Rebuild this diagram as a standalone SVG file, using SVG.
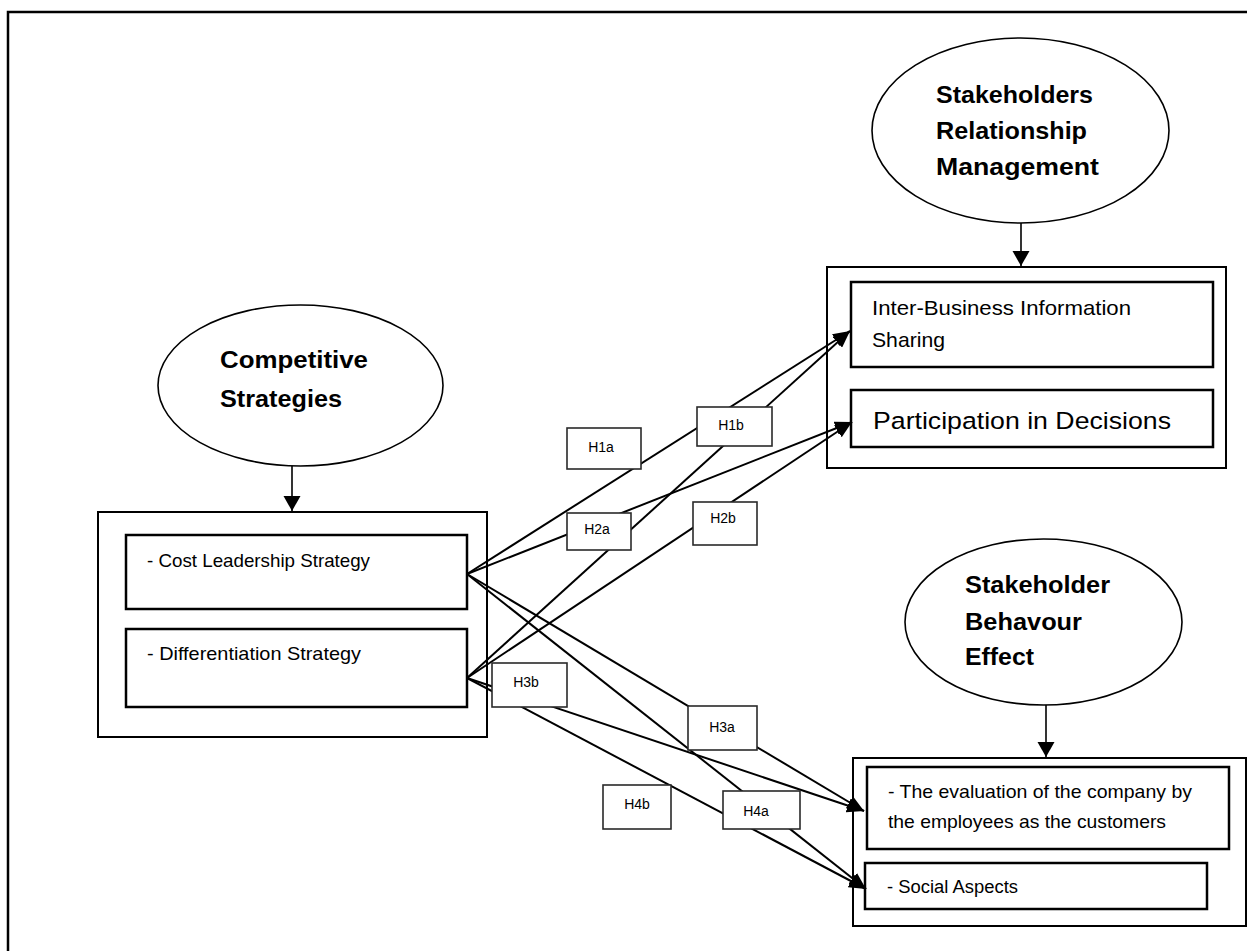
<svg xmlns="http://www.w3.org/2000/svg" width="1247" height="951" viewBox="0 0 1247 951">
<style>
.frame{fill:none;stroke:#000;stroke-width:2.5}
.ell{fill:#fff;stroke:#000;stroke-width:1.6}
.outer{fill:#fff;stroke:#000;stroke-width:2}
.inner{fill:#fff;stroke:#000;stroke-width:2.5}
.hbox{fill:#fff;stroke:#2a2a2a;stroke-width:1.6}
.conn{fill:none;stroke:#000;stroke-width:2;marker-end:url(#ah)}
.down{fill:none;stroke:#000;stroke-width:1.6;marker-end:url(#ahd)}
.bold{font-family:"Liberation Sans",Arial,sans-serif;font-weight:bold;font-size:23px;fill:#000}
.reg{font-family:"Liberation Sans",Arial,sans-serif;fill:#000}
.h{font-family:"Liberation Sans",Arial,sans-serif;font-size:14px;fill:#000;text-anchor:middle}
</style>
<defs>
<marker id="ah" markerUnits="userSpaceOnUse" markerWidth="18" markerHeight="14" refX="17" refY="7" orient="auto">
<path d="M0,0 L17,7 L0,14 z" fill="#000"/>
</marker>
<marker id="ahd" markerUnits="userSpaceOnUse" markerWidth="16" markerHeight="18" refX="15" refY="8.5" orient="auto">
<path d="M0,0 L15,8.5 L0,17 z" fill="#000"/>
</marker>
</defs>
<rect width="1247" height="951" fill="#fff"/>
<path class="frame" d="M8,951 L8,12 L1247,12"/>

<g id="competitive-strategies">
<ellipse class="ell" cx="300.5" cy="385.5" rx="142.5" ry="80.5"/>
<text class="bold" x="220" y="368" textLength="148" lengthAdjust="spacingAndGlyphs">Competitive</text>
<text class="bold" x="220" y="407" textLength="122" lengthAdjust="spacingAndGlyphs">Strategies</text>
</g>
<g id="strategies-box">
<rect class="outer" x="98" y="512" width="389" height="225"/>
<rect class="inner" x="126" y="535" width="341" height="74"/>
<text class="reg" x="147" y="567" font-size="18.5" textLength="223" lengthAdjust="spacingAndGlyphs">- Cost Leadership Strategy</text>
<rect class="inner" x="126" y="629" width="341" height="78"/>
<text class="reg" x="147" y="660" font-size="18.5" textLength="214" lengthAdjust="spacingAndGlyphs">- Differentiation Strategy</text>
</g>

<g id="srm">
<ellipse class="ell" cx="1020.5" cy="130.5" rx="148.5" ry="92.5"/>
<text class="bold" x="936" y="103" textLength="157" lengthAdjust="spacingAndGlyphs">Stakeholders</text>
<text class="bold" x="936" y="139" textLength="151" lengthAdjust="spacingAndGlyphs">Relationship</text>
<text class="bold" x="936" y="175" textLength="163" lengthAdjust="spacingAndGlyphs">Management</text>
</g>
<g id="srm-box">
<rect class="outer" x="827" y="267" width="399" height="201"/>
<rect class="inner" x="851" y="282" width="362" height="85"/>
<text class="reg" x="872" y="315" font-size="21" textLength="259" lengthAdjust="spacingAndGlyphs">Inter-Business Information</text>
<text class="reg" x="872" y="347" font-size="21" textLength="73" lengthAdjust="spacingAndGlyphs">Sharing</text>
<rect class="inner" x="851" y="390" width="362" height="57"/>
<text class="reg" x="873" y="429" font-size="24.5" textLength="298" lengthAdjust="spacingAndGlyphs">Participation in Decisions</text>
</g>

<g id="sbe">
<ellipse class="ell" cx="1043.5" cy="622" rx="138.5" ry="83"/>
<text class="bold" x="965" y="593" textLength="145" lengthAdjust="spacingAndGlyphs">Stakeholder</text>
<text class="bold" x="965" y="630" textLength="117" lengthAdjust="spacingAndGlyphs">Behavour</text>
<text class="bold" x="965" y="665" textLength="69" lengthAdjust="spacingAndGlyphs">Effect</text>
</g>
<g id="sbe-box">
<rect class="outer" x="853" y="758" width="393" height="168"/>
<rect class="inner" x="867" y="767" width="362" height="82"/>
<text class="reg" x="888" y="798" font-size="18.5" textLength="304" lengthAdjust="spacingAndGlyphs">- The evaluation of the company by</text>
<text class="reg" x="888" y="828" font-size="18.5" textLength="278" lengthAdjust="spacingAndGlyphs">the employees as the customers</text>
<rect class="inner" x="865" y="863" width="342" height="46"/>
<text class="reg" x="887" y="893" font-size="18" textLength="131" lengthAdjust="spacingAndGlyphs">- Social Aspects</text>
</g>

<g id="connectors">
<line class="down" x1="292" y1="466" x2="292" y2="511"/>
<line class="down" x1="1021" y1="223" x2="1021" y2="266"/>
<line class="down" x1="1046" y1="705" x2="1046" y2="757"/>
<line class="conn" x1="467" y1="574" x2="850" y2="331"/>
<line class="conn" x1="467" y1="678" x2="850" y2="331"/>
<line class="conn" x1="467" y1="574" x2="852" y2="422"/>
<line class="conn" x1="467" y1="678" x2="852" y2="422"/>
<line class="conn" x1="467" y1="574" x2="864" y2="811"/>
<line class="conn" x1="467" y1="574" x2="866" y2="889"/>
<line class="conn" x1="467" y1="678" x2="864" y2="811"/>
<line class="conn" x1="467" y1="678" x2="866" y2="889"/>
</g>

<g id="H1a"><rect class="hbox" x="567" y="428" width="74" height="41"/><text class="h" x="601" y="452">H1a</text></g>
<g id="H1b"><rect class="hbox" x="697" y="407" width="75" height="39"/><text class="h" x="731" y="430">H1b</text></g>
<g id="H2a"><rect class="hbox" x="567" y="513" width="64" height="37"/><text class="h" x="597" y="534" font-size="12.5">H2a</text></g>
<g id="H2b"><rect class="hbox" x="693" y="502" width="64" height="43"/><text class="h" x="723" y="523" font-size="12.5">H2b</text></g>
<g id="H3b"><rect class="hbox" x="492" y="663" width="75" height="44"/><text class="h" x="526" y="687" font-size="15">H3b</text></g>
<g id="H3a"><rect class="hbox" x="688" y="706" width="69" height="44"/><text class="h" x="722" y="732" font-size="15">H3a</text></g>
<g id="H4b"><rect class="hbox" x="603" y="785" width="68" height="44"/><text class="h" x="637" y="809" font-size="15">H4b</text></g>
<g id="H4a"><rect class="hbox" x="723" y="791" width="77" height="38"/><text class="h" x="756" y="816" font-size="15">H4a</text></g>
</svg>
